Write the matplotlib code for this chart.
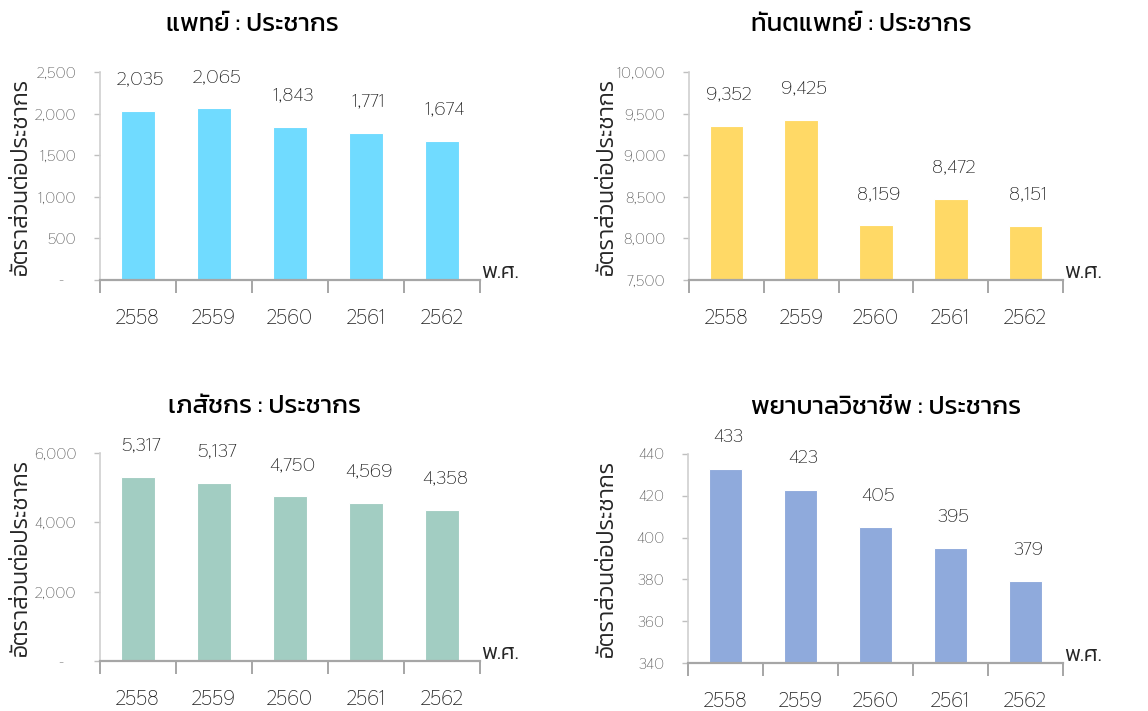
import matplotlib
matplotlib.use('Agg')
import matplotlib.pyplot as plt
from matplotlib.ticker import FuncFormatter

# Thai text in Kanit, numbers in the slimmer Thasadith
thai = ['Kanit', 'DejaVu Sans']
nums = ['Thasadith', 'DejaVu Sans']
plt.rcParams['font.family'] = nums

years = ['2558', '2559', '2560', '2561', '2562']

doctor = [2035, 2065, 1843, 1771, 1674]
dentist = [9352, 9425, 8159, 8472, 8151]
pharmacist = [5317, 5137, 4750, 4569, 4358]
nurse = [433, 423, 405, 395, 379]

titles = ['แพทย์ : ประชากร', 'ทันตแพทย์ : ประชากร', 'เภสัชกร : ประชากร', 'พยาบาลวิชาชีพ : ประชากร']
ylabel = 'อัตราส่วนต่อประชากร'
xunit = 'พ.ศ.'

series = [doctor, dentist, pharmacist, nurse]
colors = ['#70DBFF', '#FFD966', '#A2CDC2', '#8FAADC']
ylims = [(0, 2500), (7500, 10000), (0, 6000), (340, 440)]
ysteps = [500, 500, 2000, 20]

# axes boxes in figure fractions [left, bottom, width, height]
boxes = [
    [0.0871, 0.6062, 0.3310, 0.2925],
    [0.6002, 0.6062, 0.3258, 0.2925],
    [0.0871, 0.0703, 0.3310, 0.2926],
    [0.5993, 0.0675, 0.3267, 0.2940],
]
title_pos = [(252, 25), (861, 25), (264, 407), (886, 408)]
ylabel_x = [21, 607, 21, 607]

W, H = 1148, 711
fig = plt.figure(figsize=(W / 100, H / 100), dpi=100)


def fmt(v, pos):
    if v == 0:
        return '-    '
    return '{:,.0f}'.format(v)


for i in range(4):
    ax = fig.add_axes(boxes[i])
    vals = series[i]
    x = range(len(years))
    ax.bar(x, vals, width=0.45, color=colors[i], edgecolor='white', linewidth=0.8, zorder=2)

    lo, hi = ylims[i]
    ax.set_ylim(lo, hi)
    ax.set_xlim(-0.5, len(years) - 0.5)
    ax.set_yticks(range(lo, hi + 1, ysteps[i]))
    ax.yaxis.set_major_formatter(FuncFormatter(fmt))

    for xi, v in zip(x, vals):
        ax.annotate('{:,}'.format(v), (xi, v), xytext=(2, 23), textcoords='offset points',
                    ha='center', va='center', fontsize=14, color='#1F1F1F',
                    annotation_clip=False)

    # category labels centred, tick marks on the boundaries between them
    ax.set_xticks(list(x))
    ax.set_xticklabels(years, fontsize=14.5, color='#1F1F1F')
    ax.set_xticks([k - 0.5 for k in range(len(years) + 1)], minor=True)
    ax.tick_params(axis='x', which='major', length=0, pad=21)
    ax.tick_params(axis='x', which='minor', length=9, width=1.4, color='#A6A6A6')
    ax.tick_params(axis='y', length=4, width=1, color='#BFBFBF', pad=13,
                   labelsize=11, labelcolor='#595959')

    for s in ['top', 'right']:
        ax.spines[s].set_visible(False)
    ax.spines['left'].set_color('#D0D0D0')
    ax.spines['left'].set_linewidth(1.2)
    ax.spines['bottom'].set_color('#A6A6A6')
    ax.spines['bottom'].set_linewidth(1.6)

    ax.text(1.003, -0.01, xunit, transform=ax.transAxes, ha='left', va='bottom',
            fontsize=16, family=thai, fontweight=300, color='#262626')

    tx, ty = title_pos[i]
    fig.text(tx / W, 1 - ty / H, titles[i], ha='center', va='center',
             fontsize=18.5, family=thai, fontweight=400, color='black')
    b = boxes[i]
    fig.text(ylabel_x[i] / W, b[1] + b[3] / 2, ylabel, rotation=90, ha='center',
             va='center', fontsize=16.5, family=thai, fontweight=300, color='#262626')

fig.savefig('out.png', dpi=100)
